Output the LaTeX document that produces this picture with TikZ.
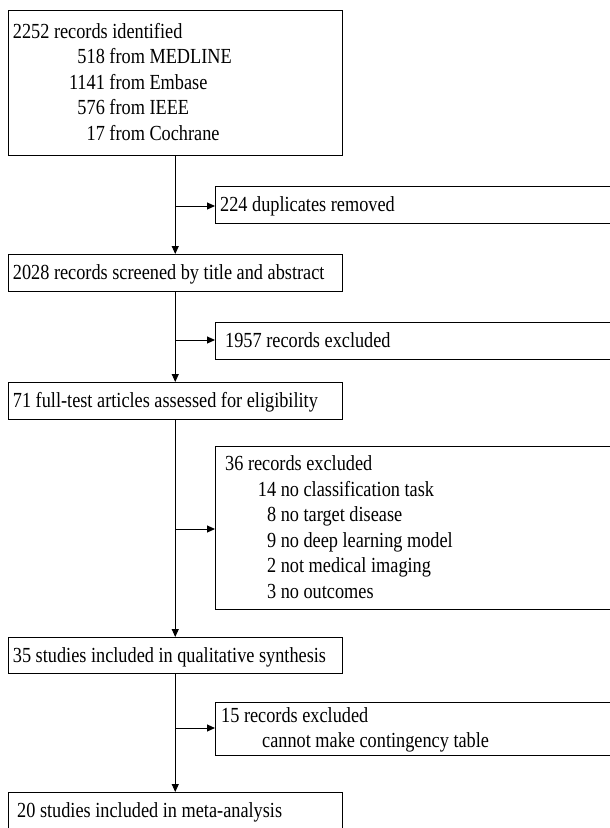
\documentclass[tikz,border=0pt]{standalone}
\usepackage{fontspec}
\setmainfont{Liberation Serif}[FakeStretch=0.85]
\usetikzlibrary{arrows.meta}
\begin{document}
\begin{tikzpicture}[x=1pt,y=-1pt,
  font=\fontsize{21.5}{25}\selectfont,
  box/.style={draw, line width=1pt, anchor=north west, inner sep=0pt},
  txt/.style={anchor=base west, inner sep=0pt},
  arr/.style={line width=1pt, -{Triangle[length=8pt,width=7pt]}}]
\useasboundingbox (0,0) rectangle (610,828);
\clip (0,0) rectangle (610,828);
% boxes
\node[box, minimum width=334.5pt, minimum height=145pt] (b1) at (7.5,10) {};
\node[box, minimum width=420pt, minimum height=37pt] (dup) at (215,186) {};
\node[box, minimum width=334.5pt, minimum height=37pt] (b2) at (7.5,254) {};
\node[box, minimum width=420pt, minimum height=37pt] (ex1) at (215,322) {};
\node[box, minimum width=334.5pt, minimum height=37pt] (b3) at (7.5,382) {};
\node[box, minimum width=420pt, minimum height=163pt] (ex2) at (215,446) {};
\node[box, minimum width=334.5pt, minimum height=36pt] (b4) at (7.5,637) {};
\node[box, minimum width=420pt, minimum height=53pt] (ex3) at (215,702) {};
\node[box, minimum width=334.5pt, minimum height=60pt] (b5) at (7.5,792) {};
% texts
\node[txt] (t11) at (12.7,38) {2252 records identified};
\node[txt] (t12) at (12.7,63.5) {\makebox[92pt][r]{518} from MEDLINE};
\node[txt] (t13) at (12.7,89) {\makebox[92pt][r]{1141} from Embase};
\node[txt] (t14) at (12.7,114.5) {\makebox[92pt][r]{576} from IEEE};
\node[txt] (t15) at (12.7,140) {\makebox[92pt][r]{17} from Cochrane};
\node[txt] (tdup) at (220,211) {224 duplicates removed};
\node[txt] (t2) at (12.7,279) {2028 records screened by title and abstract};
\node[txt] (tex1) at (225,347) {1957 records excluded};
\node[txt] (t3) at (12.7,407) {71 full-test articles assessed for eligibility};
\node[txt] (tex21) at (225,470) {36 records excluded};
\node[txt] (tex22) at (225,496) {\makebox[51pt][r]{14} no classification task};
\node[txt] (tex23) at (225,521) {\makebox[51pt][r]{8} no target disease};
\node[txt] (tex24) at (225,547) {\makebox[51pt][r]{9} no deep learning model};
\node[txt] (tex25) at (225,572) {\makebox[51pt][r]{2} not medical imaging};
\node[txt] (tex26) at (225,598) {\makebox[51pt][r]{3} no outcomes};
\node[txt] (t4) at (12.7,662) {35 studies included in qualitative synthesis};
\node[txt] (tex31) at (221,722) {15 records excluded};
\node[txt] (tex32) at (262,747) {cannot make contingency table};
\node[txt] (t5) at (17,817) {20 studies included in meta-analysis};
% connectors
\coordinate (j1) at (b1.south |- 0,206);
\coordinate (j2) at (b1.south |- 0,340);
\coordinate (j3) at (b1.south |- 0,529);
\coordinate (j4) at (b1.south |- 0,728);
\draw[arr] (b1.south) -- (b2.north);
\draw[arr] (b2.south) -- (b3.north);
\draw[arr] (b3.south) -- (b4.north);
\draw[arr] (b4.south) -- (b5.north);
\draw[arr] (j1) -- (j1 -| dup.west);
\draw[arr] (j2) -- (j2 -| ex1.west);
\draw[arr] (j3) -- (j3 -| ex2.west);
\draw[arr] (j4) -- (j4 -| ex3.west);
\end{tikzpicture}
\end{document}
